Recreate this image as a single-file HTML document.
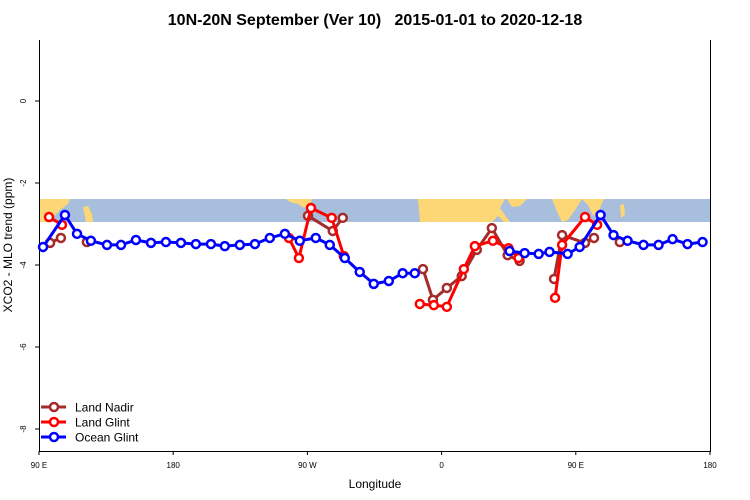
<!DOCTYPE html>
<html><head><meta charset="utf-8"><style>
body{margin:0;background:#fff;}
svg{display:block;font-family:"Liberation Sans",sans-serif;}
</style></head><body>
<svg id="chart" width="750" height="500">
<rect width="750" height="500" fill="#fff"/>
<text x="375" y="25" text-anchor="middle" font-size="16" font-weight="bold" style="white-space:pre" xml:space="preserve">10N-20N September (Ver 10)   2015-01-01 to 2020-12-18</text>
<g id="map">
<rect x="39" y="199" width="671" height="23" fill="#a7bedc"/>
<polygon points="39,199 70,199 68,204 60,210 52,218 48,222 39,222" fill="#fdd775"/>
<polygon points="83,207 88,206 92,214 93,222 86,222" fill="#fdd775"/>
<polygon points="286,199 312,199 310,205 304,208 298,204 290,202" fill="#fdd775"/>
<polygon points="418,199 505,199 500,208 510,222 504,222 498,216 492,222 420,222" fill="#fdd775"/>
<polygon points="507,199 527,199 520,206 512,207" fill="#fdd775"/>
<polygon points="552,199 582,199 575,210 568,220 562,222 558,214" fill="#fdd775"/>
<polygon points="582,199 604,199 600,208 597,218 592,214 588,205" fill="#fdd775"/>
<polygon points="620,205 624,204 625,215 621,218" fill="#fdd775"/>
</g>
<g id="axes"></g>
<g id="series"></g>
<g id="legend">
<g><line x1="41" y1="407" x2="66" y2="407" stroke="#a52a2a" stroke-width="3"/><circle cx="54" cy="407" r="4" fill="#fff" stroke="#a52a2a" stroke-width="2.5"/><text x="75" y="411.5" font-size="12">Land Nadir</text></g>
<g><line x1="41" y1="422" x2="66" y2="422" stroke="#ff0000" stroke-width="3"/><circle cx="54" cy="422" r="4" fill="#fff" stroke="#ff0000" stroke-width="2.5"/><text x="75" y="426.5" font-size="12">Land Glint</text></g>
<g><line x1="41" y1="437" x2="66" y2="437" stroke="#0000ff" stroke-width="3"/><circle cx="54" cy="437" r="4" fill="#fff" stroke="#0000ff" stroke-width="2.5"/><text x="75" y="441.5" font-size="12">Ocean Glint</text></g>
</g>
</svg>
<script>
const yTicks = [0, -2, -4, -6, -8];
const xTicks = [90, 180, 270, 360, 450, 540];
const xTickLabels = ["90 E", "180", "90 W", "0", "90 E", "180"];
const oceanLon = [92.7,107.4,115.5,124.8,135.6,145.0,155.0,165.1,175.1,185.2,195.2,205.3,214.6,224.7,234.8,244.8,254.9,264.9,275.6,285.0,295.1,305.1,314.5,324.6,333.9,342.0,null,405.6,415.7,425.1,432.4,444.5,452.6,466.6,475.3,484.7,495.4,505.5,514.9,524.9,535.0];
const oceanVal = [-3.56,-2.78,-3.24,-3.41,-3.51,-3.51,-3.39,-3.46,-3.44,-3.46,-3.49,-3.49,-3.54,-3.51,-3.49,-3.34,-3.24,-3.41,-3.34,-3.51,-3.83,-4.17,-4.46,-4.39,-4.20,-4.20,null,-3.66,-3.71,-3.73,-3.68,-3.73,-3.56,-2.78,-3.27,-3.41,-3.51,-3.51,-3.37,-3.49,-3.44];
const glintLon = [96.7,105.4,null,257.6,264.3,272.4,286.3,294.4,null,345.4,354.8,363.5,374.9,382.3,394.4,404.9,411.6,null,436.1,440.8,456.2,464.3];
const glintVal = [-2.83,-3.02,null,-3.34,-3.83,-2.61,-2.85,-3.78,null,-4.95,-4.98,-5.02,-4.10,-3.54,-3.41,-3.59,-3.83,null,-4.80,-3.51,-2.83,-3.02];
const nadirLon = [97.4,104.7,null,122.1,null,270.4,287.0,293.7,null,347.5,354.2,363.5,373.5,383.6,393.7,404.3,412.3,null,435.4,440.8,456.2,462.2,null,479.5];
const nadirVal = [-3.46,-3.34,null,-3.44,null,-2.80,-3.17,-2.85,null,-4.10,-4.85,-4.56,-4.27,-3.63,-3.10,-3.76,-3.90,null,-4.34,-3.27,-3.46,-3.34,null,-3.44];

const NS = "http://www.w3.org/2000/svg";
const X0 = 39, X1 = 710, LON0 = 90, LON1 = 540;
function xs(v){ return X0 + (v - LON0) / (LON1 - LON0) * (X1 - X0); }
function ys(v){ return 101 - v * 41; }
function mk(tag, attrs, parent){ const e = document.createElementNS(NS, tag); for (const k in attrs) e.setAttribute(k, attrs[k]); parent.appendChild(e); return e; }

const axes = document.getElementById('axes');
let l = mk('line', {x1:39.5,y1:40,x2:39.5,y2:451,stroke:'#000','stroke-width':1}, axes);


l = mk('line', {x1:710.5,y1:40,x2:710.5,y2:451,stroke:'#000','stroke-width':1}, axes);


l = mk('line', {x1:39,y1:451.5,x2:711,y2:451.5,stroke:'#000','stroke-width':1}, axes);


yTicks.forEach(function(t){
  const y = ys(t);
  const tk = mk('line', {x1:35,y1:y,x2:39,y2:y,stroke:'#000'}, axes);
  
  
  const tx = mk('text', {x:26,y:y,'font-size':8,'text-anchor':'middle',transform:'rotate(-90 26 '+y+')'}, axes);
  tx.textContent = String(t);
  
  
});
xTicks.forEach(function(t, i){
  const x = xs(t);
  const tk = mk('line', {x1:x,y1:451,x2:x,y2:455,stroke:'#000'}, axes);
  
  
  const tx = mk('text', {x:x,y:468,'font-size':8,'text-anchor':'middle'}, axes);
  tx.textContent = xTickLabels[i];
  
  
});
let at = mk('text', {x:375,y:488,'font-size':12,'text-anchor':'middle'}, axes);
at.textContent = 'Longitude';


at = mk('text', {x:12,y:245,'font-size':12,'text-anchor':'middle',transform:'rotate(-90 12 245)'}, axes);
at.textContent = 'XCO2 - MLO trend (ppm)';



const seriesG = document.getElementById('series');
function drawSeries(lon, val, color, name){
  const g = mk('g', {}, seriesG);
  
  
  let d = '', pen = false;
  for (let i = 0; i < lon.length; i++){
    if (lon[i] === null || val[i] === null){ pen = false; continue; }
    d += (pen ? 'L' : 'M') + xs(lon[i]).toFixed(1) + ',' + ys(val[i]).toFixed(1);
    pen = true;
  }
  const p = mk('path', {d:d, fill:'none', stroke:color, 'stroke-width':3, 'stroke-linejoin':'round'}, g);
  
  
  for (let i = 0; i < lon.length; i++){
    if (lon[i] === null || val[i] === null) continue;
    const c = mk('circle', {cx:xs(lon[i]), cy:ys(val[i]), r:4, fill:'#fff', stroke:color, 'stroke-width':2.5}, g);
    
    
  }
}
drawSeries(nadirLon, nadirVal, '#a52a2a', 'land-nadir');
drawSeries(glintLon, glintVal, '#ff0000', 'land-glint');
drawSeries(oceanLon, oceanVal, '#0000ff', 'ocean-glint');
</script>
</body></html>
